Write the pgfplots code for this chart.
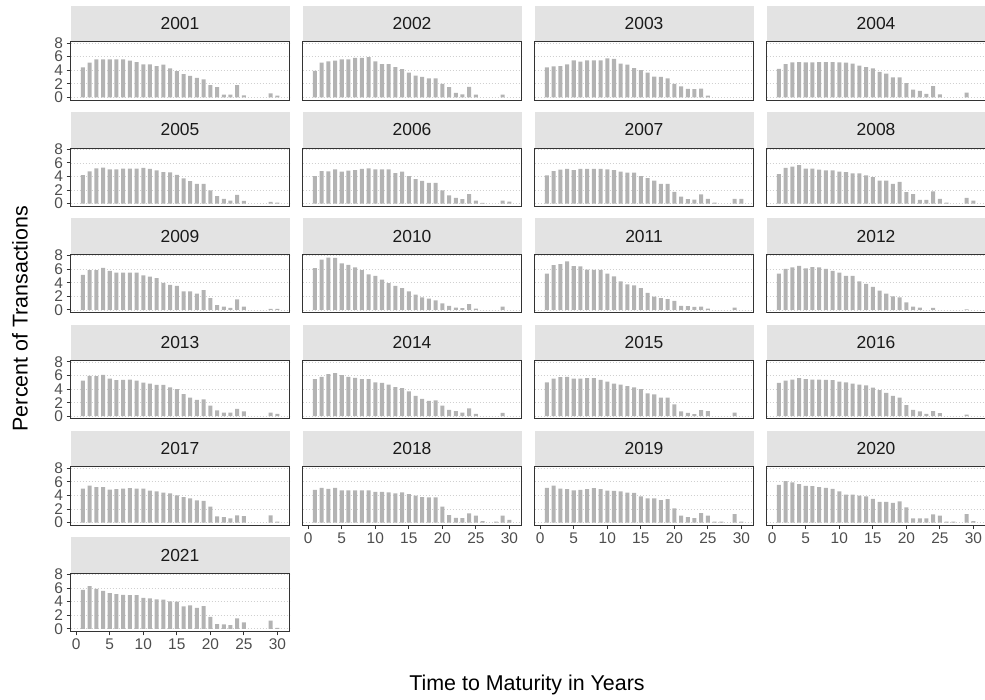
\documentclass[border=0pt]{standalone}
\usepackage{fontspec}
\setmainfont{Liberation Sans}
\usepackage{pgfplots}
\pgfplotsset{compat=1.18}
\definecolor{barc}{HTML}{B3B3B3}
\definecolor{stripc}{HTML}{E3E3E3}
\definecolor{borderc}{HTML}{333333}
\definecolor{gridc}{HTML}{D0D0D0}
\definecolor{tickc}{HTML}{4D4D4D}
\definecolor{striptext}{HTML}{1A1A1A}
\pgfplotsset{panel/.style={
  scale only axis, width=219bp, height=58.3bp,
  xmin=-0.85, xmax=31.8, ymin=-0.39, ymax=8.19,
  clip=false,
  axis line style={draw=borderc, line width=0.9bp},
  ytick={0,2,4,6,8}, xtick={0,5,...,30},
  ymajorgrids, grid style={gridc, line width=0.7bp, dash pattern=on 1.2bp off 1.8bp},
  tick align=outside, major tick length=4bp,
  tick style={draw=borderc, line width=0.9bp},
  xtick pos=bottom, ytick pos=left,
  tick label style={font=\fontsize{15.5}{15.5}\selectfont, text=tickc},
  /pgf/number format/assume math mode=true,
  anchor=south west,
}}
\newcommand{\panel}[5]{%
\begin{axis}[panel, at={({(70.5+232*#1)*1bp},{(600-106.3*#2)*1bp})}, #5]
\addplot[ybar, bar width=0.6, fill=barc, draw=none] coordinates {#4};
\fill[stripc] ([yshift=0.45bp]rel axis cs:0,1) rectangle ([yshift=36bp]rel axis cs:1,1);
\node[font=\fontsize{17.5}{17.5}\selectfont, text=striptext] at ([yshift=18bp]rel axis cs:0.5,1) {#3};
\end{axis}}
\begin{document}
\begin{tikzpicture}[x=1bp,y=1bp]
\path[use as bounding box] (0,0) rectangle (985,700);
% row 1
\panel{0}{0}{2001}{(1,4.4) (2,5.1) (3,5.6) (4,5.6) (5,5.6) (6,5.6) (7,5.6) (8,5.4) (9,5.2) (10,4.85) (11,4.85) (12,4.6) (13,4.8) (14,4.25) (15,3.85) (16,3.4) (17,3.15) (18,2.85) (19,2.65) (20,1.8) (21,1.5) (22,0.4) (23,0.4) (24,1.8) (25,0.3) (29,0.6) (30,0.25)}{xmajorticks=false}
\panel{1}{0}{2002}{(1,3.9) (2,5.1) (3,5.3) (4,5.4) (5,5.6) (6,5.6) (7,5.8) (8,5.8) (9,5.9) (10,5.3) (11,4.9) (12,4.9) (13,4.45) (14,4.15) (15,3.65) (16,3.2) (17,3.0) (18,2.8) (19,2.8) (20,2.0) (21,1.5) (22,0.65) (23,0.45) (24,1.55) (25,0.4) (29,0.4)}{xmajorticks=false, yticklabels={}, y tick style={draw=none}}
\panel{2}{0}{2003}{(1,4.4) (2,4.55) (3,4.6) (4,4.85) (5,5.45) (6,5.25) (7,5.45) (8,5.45) (9,5.45) (10,5.75) (11,5.65) (12,4.95) (13,4.8) (14,4.3) (15,4.0) (16,3.65) (17,3.05) (18,3.0) (19,2.8) (20,2.0) (21,1.6) (22,1.25) (23,1.2) (24,1.3) (25,0.25)}{xmajorticks=false, yticklabels={}, y tick style={draw=none}}
\panel{3}{0}{2004}{(1,4.2) (2,4.9) (3,5.15) (4,5.2) (5,5.15) (6,5.15) (7,5.2) (8,5.2) (9,5.2) (10,5.15) (11,5.1) (12,4.95) (13,4.65) (14,4.45) (15,4.25) (16,3.75) (17,3.5) (18,2.95) (19,2.95) (20,2.1) (21,1.15) (22,0.95) (23,0.5) (24,1.65) (25,0.45) (29,0.7)}{xmajorticks=false, yticklabels={}, y tick style={draw=none}}
% row 2
\panel{0}{1}{2005}{(1,4.2) (2,4.75) (3,5.2) (4,5.3) (5,5.05) (6,5.05) (7,5.15) (8,5.15) (9,5.15) (10,5.25) (11,5.1) (12,4.9) (13,4.65) (14,4.6) (15,4.25) (16,3.7) (17,3.3) (18,2.9) (19,2.9) (20,1.95) (21,1.1) (22,0.7) (23,0.45) (24,1.3) (25,0.4) (29,0.25) (30,0.15)}{xmajorticks=false}
\panel{1}{1}{2006}{(1,4.05) (2,4.8) (3,4.75) (4,5.05) (5,4.7) (6,4.85) (7,4.95) (8,5.1) (9,5.2) (10,5.05) (11,5.05) (12,5.05) (13,4.5) (14,4.7) (15,4.05) (16,3.6) (17,3.35) (18,3.05) (19,3.05) (20,1.95) (21,1.2) (22,0.85) (23,0.65) (24,1.4) (25,0.45) (26,0.1) (29,0.45) (30,0.3)}{xmajorticks=false, yticklabels={}, y tick style={draw=none}}
\panel{2}{1}{2007}{(1,4.15) (2,4.8) (3,5.0) (4,5.1) (5,4.95) (6,5.1) (7,5.1) (8,5.1) (9,5.1) (10,5.05) (11,4.95) (12,4.7) (13,4.55) (14,4.55) (15,4.05) (16,3.75) (17,3.4) (18,2.9) (19,2.9) (20,1.75) (21,1.05) (22,0.65) (23,0.6) (24,1.35) (25,0.7) (26,0.15) (29,0.7) (30,0.7)}{xmajorticks=false, yticklabels={}, y tick style={draw=none}}
\panel{3}{1}{2008}{(1,4.35) (2,5.25) (3,5.45) (4,5.65) (5,5.15) (6,5.15) (7,5.0) (8,4.9) (9,4.9) (10,4.7) (11,4.65) (12,4.45) (13,4.45) (14,4.15) (15,3.9) (16,3.4) (17,3.4) (18,2.9) (19,3.2) (20,1.7) (21,1.4) (22,0.55) (23,0.55) (24,1.8) (25,0.7) (26,0.15) (29,0.85) (30,0.45)}{xmajorticks=false, yticklabels={}, y tick style={draw=none}}
% row 3
\panel{0}{2}{2009}{(1,5.15) (2,5.85) (3,5.85) (4,6.2) (5,5.75) (6,5.5) (7,5.5) (8,5.5) (9,5.5) (10,5.1) (11,4.9) (12,4.7) (13,4.0) (14,3.7) (15,3.55) (16,2.75) (17,2.75) (18,2.4) (19,2.9) (20,1.75) (21,0.7) (22,0.5) (23,0.3) (24,1.55) (25,0.5) (29,0.15) (30,0.15)}{xmajorticks=false}
\panel{1}{2}{2010}{(1,6.15) (2,7.4) (3,7.7) (4,7.65) (5,6.85) (6,6.65) (7,6.25) (8,5.85) (9,5.25) (10,5.0) (11,4.45) (12,3.95) (13,3.55) (14,3.2) (15,2.75) (16,2.25) (17,1.85) (18,1.65) (19,1.4) (20,0.95) (21,0.6) (22,0.35) (23,0.25) (24,0.85) (25,0.2) (29,0.5)}{xmajorticks=false, yticklabels={}, y tick style={draw=none}}
\panel{2}{2}{2011}{(1,5.35) (2,6.6) (3,6.75) (4,7.15) (5,6.45) (6,6.4) (7,5.95) (8,5.9) (9,5.9) (10,5.35) (11,4.95) (12,4.2) (13,3.75) (14,3.6) (15,3.2) (16,2.5) (17,1.95) (18,1.75) (19,1.6) (20,1.35) (21,0.6) (22,0.55) (23,0.45) (24,0.5) (25,0.2) (29,0.35)}{xmajorticks=false, yticklabels={}, y tick style={draw=none}}
\panel{3}{2}{2012}{(1,5.35) (2,6.05) (3,6.25) (4,6.5) (5,6.1) (6,6.3) (7,6.25) (8,6.05) (9,5.75) (10,5.5) (11,5.0) (12,5.0) (13,4.2) (14,3.85) (15,3.4) (16,2.85) (17,2.4) (18,2.0) (19,1.85) (20,1.1) (21,0.5) (22,0.35) (24,0.3) (29,0.1)}{xmajorticks=false, yticklabels={}, y tick style={draw=none}}
% row 4
\panel{0}{3}{2013}{(1,5.25) (2,5.95) (3,5.9) (4,6.1) (5,5.55) (6,5.3) (7,5.35) (8,5.4) (9,5.25) (10,4.95) (11,4.8) (12,4.6) (13,4.6) (14,4.25) (15,4.0) (16,3.25) (17,2.75) (18,2.4) (19,2.5) (20,1.55) (21,0.85) (22,0.55) (23,0.55) (24,1.1) (25,0.7) (29,0.55) (30,0.35)}{xmajorticks=false}
\panel{1}{3}{2014}{(1,5.45) (2,5.8) (3,6.2) (4,6.35) (5,6.05) (6,5.8) (7,5.65) (8,5.45) (9,5.45) (10,5.0) (11,4.9) (12,4.65) (13,4.3) (14,4.15) (15,3.65) (16,3.0) (17,2.55) (18,2.25) (19,2.35) (20,1.55) (21,0.95) (22,0.75) (23,0.55) (24,1.15) (25,0.35) (29,0.5)}{xmajorticks=false, yticklabels={}, y tick style={draw=none}}
\panel{2}{3}{2015}{(1,5.0) (2,5.55) (3,5.75) (4,5.8) (5,5.55) (6,5.55) (7,5.6) (8,5.6) (9,5.35) (10,5.1) (11,4.8) (12,4.65) (13,4.45) (14,4.25) (15,4.0) (16,3.35) (17,3.2) (18,2.75) (19,2.75) (20,1.75) (21,0.7) (22,0.5) (23,0.3) (24,0.9) (25,0.75) (29,0.55)}{xmajorticks=false, yticklabels={}, y tick style={draw=none}}
\panel{3}{3}{2016}{(1,4.9) (2,5.25) (3,5.4) (4,5.6) (5,5.45) (6,5.4) (7,5.4) (8,5.35) (9,5.3) (10,5.1) (11,5.0) (12,4.8) (13,4.65) (14,4.55) (15,4.2) (16,3.85) (17,3.45) (18,3.0) (19,2.75) (20,1.65) (21,0.95) (22,0.7) (23,0.35) (24,0.75) (25,0.45) (29,0.25)}{xmajorticks=false, yticklabels={}, y tick style={draw=none}}
% row 5
\panel{0}{4}{2017}{(1,5.0) (2,5.45) (3,5.2) (4,5.2) (5,4.85) (6,4.9) (7,5.0) (8,5.05) (9,5.0) (10,5.0) (11,4.7) (12,4.6) (13,4.4) (14,4.3) (15,4.0) (16,3.75) (17,3.55) (18,3.25) (19,3.2) (20,2.35) (21,0.9) (22,0.8) (23,0.6) (24,1.05) (25,0.95) (29,1.05) (30,0.15)}{xmajorticks=false}
\panel{1}{4}{2018}{(1,4.8) (2,5.1) (3,4.95) (4,5.1) (5,4.75) (6,4.75) (7,4.75) (8,4.75) (9,4.75) (10,4.5) (11,4.5) (12,4.45) (13,4.3) (14,4.45) (15,4.2) (16,3.95) (17,3.75) (18,3.7) (19,3.7) (20,2.35) (21,1.1) (22,0.7) (23,0.65) (24,1.35) (25,1.0) (26,0.2) (28,0.15) (29,1.0) (30,0.4)}{yticklabels={}, y tick style={draw=none}}
\panel{2}{4}{2019}{(1,5.1) (2,5.45) (3,5.0) (4,4.9) (5,4.75) (6,4.8) (7,4.9) (8,5.05) (9,4.9) (10,4.7) (11,4.65) (12,4.6) (13,4.4) (14,4.35) (15,3.85) (16,3.55) (17,3.55) (18,3.3) (19,3.45) (20,2.1) (21,1.0) (22,0.8) (23,0.65) (24,1.4) (25,1.0) (26,0.15) (27,0.15) (29,1.25) (30,0.15)}{yticklabels={}, y tick style={draw=none}}
\panel{3}{4}{2020}{(1,5.55) (2,6.1) (3,5.9) (4,5.65) (5,5.4) (6,5.35) (7,5.2) (8,5.1) (9,4.95) (10,4.6) (11,4.1) (12,4.1) (13,3.95) (14,3.85) (15,3.5) (16,3.05) (17,3.05) (18,2.9) (19,3.1) (20,2.25) (21,0.6) (22,0.6) (23,0.6) (24,1.2) (25,1.0) (26,0.15) (27,0.15) (29,1.25) (30,0.2)}{yticklabels={}, y tick style={draw=none}}
% row 6
\panel{0}{5}{2021}{(1,5.75) (2,6.3) (3,5.9) (4,5.6) (5,5.25) (6,5.1) (7,5.0) (8,4.95) (9,4.95) (10,4.55) (11,4.5) (12,4.35) (13,4.3) (14,4.05) (15,4.0) (16,3.3) (17,3.45) (18,3.1) (19,3.35) (20,1.75) (21,0.7) (22,0.65) (23,0.55) (24,1.55) (25,0.95) (29,1.2) (30,0.15)}{}
\node[rotate=90, font=\fontsize{21.5}{21.5}\selectfont] at (20, 381.4) {Percent of Transactions};
\node[font=\fontsize{21.5}{21.5}\selectfont] at (527, 15) {Time to Maturity in Years};
\end{tikzpicture}
\end{document}
